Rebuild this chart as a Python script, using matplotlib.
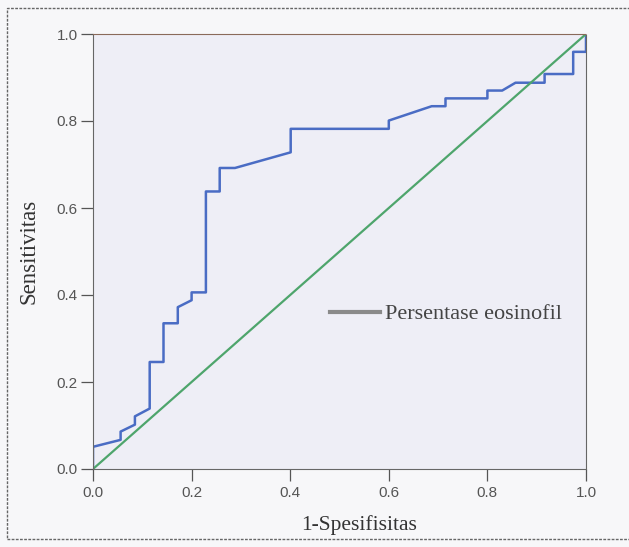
import numpy as np
import matplotlib.pyplot as plt
from matplotlib.lines import Line2D
from matplotlib.patches import Rectangle

# ROC curve points
fpr = [0.0, 0.0, 0.056, 0.056, 0.085, 0.085, 0.115, 0.115, 0.143, 0.143, 0.172, 0.172,
       0.200, 0.200, 0.229, 0.229, 0.257, 0.257, 0.288, 0.401, 0.401, 0.600, 0.600,
       0.687, 0.715, 0.715, 0.800, 0.800, 0.830, 0.857, 0.916, 0.916, 0.974, 0.974,
       1.0, 1.0]
tpr = [0.0, 0.051, 0.067, 0.086, 0.102, 0.121, 0.139, 0.246, 0.246, 0.335, 0.335, 0.372,
       0.388, 0.406, 0.406, 0.638, 0.638, 0.692, 0.692, 0.728, 0.782, 0.782, 0.801,
       0.834, 0.834, 0.852, 0.852, 0.870, 0.870, 0.888, 0.888, 0.908, 0.908, 0.959,
       0.959, 1.0]
ref_line = [0.0, 1.0]
ticks = [0.0, 0.2, 0.4, 0.6, 0.8, 1.0]
label_curve = "Persentase eosinofil"

fig = plt.figure(figsize=(6.29, 5.47), dpi=100)
fig.patch.set_facecolor('#f7f7f9')
ax = fig.add_axes([93/629, 78/547, 493/629, 435/547])
ax.set_facecolor('#eeeef6')

# outer frame of the chart
fig.add_artist(Rectangle((7/629, 8/547), 640/629, 531/547, transform=fig.transFigure,
                         fill=False, edgecolor='#666666', linewidth=1.0, linestyle=(0, (2, 1))))

ax.plot(fpr, tpr, color='#4a6cc4', linewidth=1.8)
ax.plot(ref_line, ref_line, color='#4ea56c', linewidth=1.6)

ax.set_xlim(0, 1)
ax.set_ylim(0, 1)
ax.set_xticks(ticks)
ax.set_yticks(ticks)
ax.set_xticklabels(['%.1f' % t for t in ticks])
ax.set_yticklabels(['%.1f' % t for t in ticks])
ax.tick_params(direction='out', length=8.5, width=0.9, color='#555555',
               labelcolor='#555555', labelsize=11)
ax.tick_params(axis='x', pad=4)
ax.tick_params(axis='y', pad=2.5)
for t in ax.get_xticklabels() + ax.get_yticklabels():
    t.set_family('Liberation Sans')
for s in ax.spines.values():
    s.set_color('#666666')
    s.set_linewidth(0.8)
    s.set_linestyle((0, (3, 1)))
ax.spines['top'].set_color('#8a6a5a')

ax.set_xlabel('1-Spesifisitas', family='Liberation Serif', fontsize=15.5, color='#333333')
ax.set_ylabel('Sensitivitas', family='Liberation Serif', fontsize=16.5, color='#333333')
ax.xaxis.set_label_coords(0.54, -0.106)
ax.yaxis.set_label_coords(-0.108, 0.5)

handle = Line2D([], [], color='#8a8a8a', linewidth=3)
leg = ax.legend([handle], [label_curve], loc='center left', bbox_to_anchor=(0.481, 0.356),
                frameon=False, borderpad=0, borderaxespad=0, handlelength=2.25,
                handletextpad=0.23, prop={'family': 'Liberation Serif', 'size': 16})
for t in leg.get_texts():
    t.set_color('#444444')

fig.savefig('out.png', dpi=100, facecolor=fig.get_facecolor())
